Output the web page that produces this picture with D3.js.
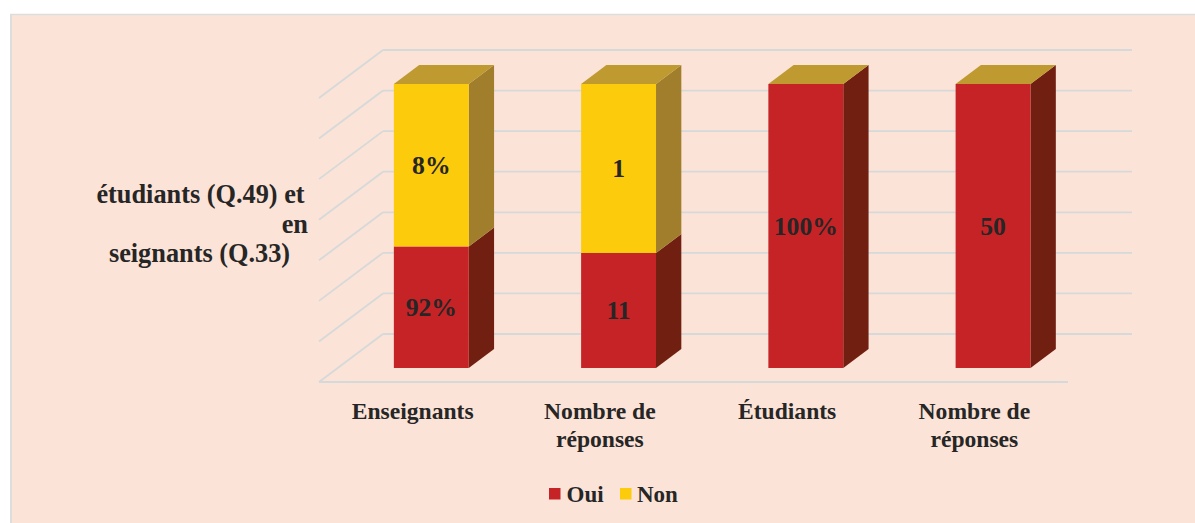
<!DOCTYPE html>
<html>
<head>
<meta charset="utf-8">
<script src="https://cdn.jsdelivr.net/npm/d3@7/dist/d3.min.js"></script>
<style>
  html, body { margin: 0; padding: 0; background: #ffffff; }
  svg { display: block; }
  text { font-family: "Liberation Serif", "Times New Roman", serif; font-weight: bold; fill: #262626; }
</style>
</head>
<body>
<svg id="chart" width="1195" height="523"></svg>
<script>
// ---- data ----
const categories = ["Enseignants", "Nombre de\nréponses", "Étudiants", "Nombre de\nréponses"];
const seriesNames = ["Oui", "Non"];
// visible share of the column height (% of axis) for each series
const ouiValues = [42.8, 40.5, 100, 100];
const nonValues = [57.2, 59.5, 0, 0];
// data label texts shown on the segments
const ouiLabels = ["92%", "11", "100%", "50"];
const nonLabels = ["8%", "1", "", ""];
const gridTicks = d3.range(0, 8).map(i => i * 100 / 7);
const yTitleLines = ["étudiants (Q.49) et", "en", "seignants (Q.33)"];

// ---- styles ----
const colors = {
  Oui: { front: "#c62326", side: "#701f11" },
  Non: { front: "#fccb0c", side: "#a07e2c" }
};
const topColor = "#be9a30";
const gridColor = "#d6d9da";

const svg = d3.select("#chart");
// chart area background
svg.append("rect").attr("x", 10).attr("y", 14).attr("width", 1185).attr("height", 509)
  .attr("fill", "#fce3d7");
svg.append("line").attr("x1", 11).attr("x2", 11).attr("y1", 14).attr("y2", 523)
  .attr("stroke", "#dddddd").attr("stroke-width", 2);
svg.append("line").attr("x1", 10).attr("x2", 1195).attr("y1", 14.5).attr("y2", 14.5)
  .attr("stroke", "#dddddd").attr("stroke-width", 1.5);

// ---- 3D oblique projection ----
const backLeft = 383, backRight = 1132;
const depthDX = -64, depthDY = 48; // from back (z=0) to front (z=1)
const x = d3.scaleBand().domain(d3.range(categories.length)).range([backLeft, backRight]).padding(0);
const y = d3.scaleLinear().domain([0, 100]).range([334, 50]);
const P = (xb, v, z) => [xb + depthDX * z, y(v) + depthDY * z];
const zFront = 0.708, zBack = 0.3125;
const barW = x.bandwidth() * 0.4;

// gridlines: back wall + left wall diagonals
const grid = svg.append("g");
gridTicks.forEach(t => {
  grid.append("line").attr("x1", backLeft).attr("x2", backRight)
    .attr("y1", y(t)).attr("y2", y(t)).attr("stroke", gridColor).attr("stroke-width", 1.8);
  const a = P(backLeft, t, 0), b = P(backLeft, t, 1);
  grid.append("line").attr("x1", a[0]).attr("y1", a[1]).attr("x2", b[0]).attr("y2", b[1])
    .attr("stroke", gridColor).attr("stroke-width", 1.8);
});
// floor front edge
{
  const a = P(backLeft, 0, 1), b = P(backRight, 0, 1);
  grid.append("line").attr("x1", a[0]).attr("y1", a[1]).attr("x2", b[0]).attr("y2", b[1])
    .attr("stroke", gridColor).attr("stroke-width", 1.8);
}

// ---- stacked 3D columns ----
const stackData = categories.map((c, i) => ({ i, Oui: ouiValues[i], Non: nonValues[i] }));
const stacked = d3.stack().keys(seriesNames)(stackData);
const labelsBySeries = { Oui: ouiLabels, Non: nonLabels };
const poly = pts => pts.map(p => p.join(",")).join(" ");

const bars = svg.append("g");
categories.forEach((c, i) => {
  const cx = x(i) + x.bandwidth() / 2;
  const x0 = cx - barW / 2, x1 = cx + barW / 2;
  let topV = 0;
  stacked.forEach(s => {
    const d = s[i];
    const v0 = d[0], v1 = d[1];
    if (v1 - v0 <= 0) return;
    const col = colors[s.key];
    // side face
    bars.append("polygon").attr("points", poly([
      P(x1, v0, zFront), P(x1, v0, zBack), P(x1, v1, zBack), P(x1, v1, zFront)
    ])).attr("fill", col.side);
    // front face
    const f0 = P(x0, v1, zFront), f1 = P(x1, v0, zFront);
    bars.append("rect").attr("x", f0[0]).attr("y", f0[1])
      .attr("width", f1[0] - f0[0]).attr("height", f1[1] - f0[1]).attr("fill", col.front);
    topV = Math.max(topV, v1);
  });
  // top face
  bars.append("polygon").attr("points", poly([
    P(x0, topV, zFront), P(x0, topV, zBack), P(x1, topV, zBack), P(x1, topV, zFront)
  ])).attr("fill", topColor);
});

// data labels
const lab = svg.append("g");
stacked.forEach(s => {
  s.forEach((d, i) => {
    const txt = labelsBySeries[s.key][i];
    if (!txt) return;
    const cx = x(i) + x.bandwidth() / 2;
    const p = P(cx, (d[0] + d[1]) / 2, zFront);
    lab.append("text").attr("x", p[0]).attr("y", p[1]).attr("dy", "0.35em")
      .attr("text-anchor", "middle").attr("font-size", 25.7).text(txt);
  });
});

// category labels (centered at front floor projection)
const cat = svg.append("g");
categories.forEach((c, i) => {
  const p = P(x(i) + x.bandwidth() / 2, 0, 1);
  const t = cat.append("text").attr("text-anchor", "middle").attr("font-size", 23.6)
    .attr("x", p[0]).attr("y", 419);
  c.split("\n").forEach((line, k) => {
    t.append("tspan").attr("x", p[0]).attr("y", 419 + k * 28).text(line);
  });
});

// axis title
const yt = svg.append("g").attr("font-size", 26.3);
yt.append("text").attr("x", 200.5).attr("y", 203).attr("text-anchor", "middle").attr("font-size", 26.3).text(yTitleLines[0]);
yt.append("text").attr("x", 308).attr("y", 233).attr("text-anchor", "end").attr("font-size", 26.3).text(yTitleLines[1]);
yt.append("text").attr("x", 199.5).attr("y", 262).attr("text-anchor", "middle").attr("font-size", 26.3).text(yTitleLines[2]);

// legend
const leg = svg.append("g");
const legendPos = [{ sq: 549, tx: 566.5 }, { sq: 620, tx: 637 }];
seriesNames.forEach((n, k) => {
  leg.append("rect").attr("x", legendPos[k].sq).attr("y", 488).attr("width", 11.5).attr("height", 11.5)
    .attr("fill", colors[n].front);
  leg.append("text").attr("x", legendPos[k].tx).attr("y", 502).attr("font-size", 23).text(n);
});
</script>
</body>
</html>
